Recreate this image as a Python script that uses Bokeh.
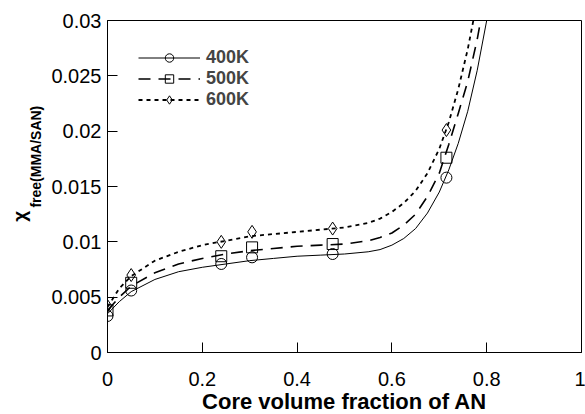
from bokeh.plotting import figure
from bokeh.models import Legend, FixedTicker
from bokeh.layouts import row
from bokeh.core.properties import value
from bokeh.embed import file_html
from bokeh.resources import INLINE
import math

# measured points
x_pts = [0.0, 0.05, 0.24, 0.305, 0.475, 0.715]
y400 = [0.0033, 0.0056, 0.0080, 0.0086, 0.0089, 0.0158]
y500 = [0.0038, 0.0063, 0.0087, 0.0095, 0.0098, 0.0176]
y600 = [0.0042, 0.0070, 0.0100, 0.0109, 0.0112, 0.0201]

# fitted curves
x_fit = [0.0, 0.025, 0.05, 0.1, 0.15, 0.2, 0.25, 0.3, 0.35, 0.4, 0.45, 0.5,
         0.55, 0.575, 0.6, 0.625, 0.65, 0.675, 0.7, 0.72, 0.74, 0.76, 0.78, 0.8]
f400 = [0.0035, 0.0046, 0.0055, 0.0066, 0.0073, 0.0077, 0.0080, 0.0083, 0.0085,
        0.0087, 0.0088, 0.0089, 0.0091, 0.0093, 0.0097, 0.0103, 0.0112, 0.0126,
        0.0145, 0.0165, 0.0189, 0.0218, 0.0255, 0.0300]
f500 = [0.0038, 0.0050, 0.0060, 0.0072, 0.0080, 0.0085, 0.0089, 0.0092, 0.0094,
        0.0096, 0.0097, 0.0098, 0.0101, 0.0104, 0.0108, 0.0115, 0.0125, 0.0141,
        0.0162, 0.0188, 0.0216, 0.0245, 0.0283, 0.0330]
f600 = [0.0041, 0.0058, 0.0069, 0.0083, 0.0091, 0.0097, 0.0101, 0.0105, 0.0107,
        0.0109, 0.0111, 0.0113, 0.0117, 0.0121, 0.0127, 0.0135, 0.0146, 0.0162,
        0.0184, 0.0208, 0.0238, 0.0274, 0.0318, 0.0370]

labels = ["400K", "500K", "600K"]
x_ticks = [0, 0.2, 0.4, 0.6, 0.8, 1]
x_tick_labels = ["0", "0.2", "0.4", "0.6", "0.8", "1"]
y_ticks = [0, 0.005, 0.01, 0.015, 0.02, 0.025, 0.03]
y_tick_labels = ["0", "0.005", "0.01", "0.015", "0.02", "0.025", "0.03"]
y_title_main = "χ"
y_title_sub = "free(MMA/SAN)"

FONT = "Liberation Sans"
LAB_W = 46
TOP, BOTTOM = 20, 62   # borders of the main plot frame

# ---- narrow strip holding the rotated y-axis title ----
# its frame is aligned with the main frame by the row layout, so its
# y range is set so that data y = 414 - pixel row
lab = figure(width=LAB_W, height=414, x_range=(0, LAB_W),
             y_range=(BOTTOM, 414 - TOP),
             output_backend="svg", toolbar_location=None,
             x_axis_type=None, y_axis_type=None,
             min_border_left=0, min_border_right=0, min_border_top=TOP,
             min_border_bottom=BOTTOM, background_fill_color="white",
             border_fill_color="white")
lab.grid.visible = False
lab.outline_line_color = None
lab.text(x=[19], y=[414 - 217], text=[y_title_main], angle=math.pi / 2,
         text_align="center", text_baseline="alphabetic",
         text_font=value(FONT), text_font_style="bold",
         text_font_size="19px", text_color="black")
lab.text(x=[35], y=[414 - 157], text=[y_title_sub], angle=math.pi / 2,
         text_align="center", text_baseline="alphabetic",
         text_font=value(FONT), text_font_style="bold",
         text_font_size="14px", text_color="black")

# ---- main plot ----
p = figure(width=585 - LAB_W, height=414, x_range=(0, 1), y_range=(0, 0.03),
           output_backend="svg", toolbar_location=None,
           min_border_left=107 - LAB_W, min_border_right=4, min_border_top=TOP,
           min_border_bottom=BOTTOM, background_fill_color="white",
           border_fill_color="white")
p.frame_width = 474
p.frame_height = 332

p.grid.visible = False
p.outline_line_color = "black"
p.outline_line_width = 1

for ax in (p.xaxis[0], p.yaxis[0]):
    ax.major_tick_in = 10
    ax.major_tick_out = 0
    ax.minor_tick_in = 0
    ax.minor_tick_out = 0
    ax.axis_line_color = "black"
    ax.major_tick_line_color = "black"
    ax.major_label_text_font = FONT
    ax.major_label_text_font_size = "20px"
    ax.major_label_text_color = "black"

p.xaxis[0].ticker = FixedTicker(ticks=x_ticks)
p.xaxis[0].major_label_overrides = {t: s for t, s in zip(x_ticks, x_tick_labels)}
p.yaxis[0].ticker = FixedTicker(ticks=y_ticks)
p.yaxis[0].major_label_overrides = {t: s for t, s in zip(y_ticks, y_tick_labels)}
p.xaxis[0].major_label_standoff = 19
p.yaxis[0].major_label_standoff = 6

p.xaxis[0].axis_label = "Core volume fraction of AN"
p.xaxis[0].axis_label_text_font = FONT
p.xaxis[0].axis_label_text_font_style = "bold"
p.xaxis[0].axis_label_text_font_size = "22px"
p.xaxis[0].axis_label_standoff = 0
p.xaxis[0].axis_label_text_color = "black"

styles = [
    dict(line_dash="solid", line_width=1.0, marker="circle", size=11),
    dict(line_dash="12 8", line_width=1.6, marker="square", size=11),
    dict(line_dash="4 4", line_width=1.8, marker="diamond", size=13),
]

items = []
for lb, fy, py, st in zip(labels, [f400, f500, f600], [y400, y500, y600], styles):
    r1 = p.line(x_fit, fy, line_color="black", line_width=st["line_width"],
                line_dash=st["line_dash"])
    r2 = p.scatter(x_pts, py, marker=st["marker"], size=st["size"],
                   fill_color=None, line_color="black", line_width=1)
    items.append((lb, [r1, r2]))

legend = Legend(items=items, location=(31, 242), border_line_color=None,
                background_fill_alpha=0, padding=0, spacing=0, margin=0,
                glyph_width=62, glyph_height=21, label_height=21,
                label_standoff=6, label_text_font=FONT,
                label_text_font_style="bold", label_text_font_size="18px")
p.add_layout(legend, "center")

layout = row(lab, p, spacing=0)
open("out.html", "w").write(file_html(layout, INLINE))
